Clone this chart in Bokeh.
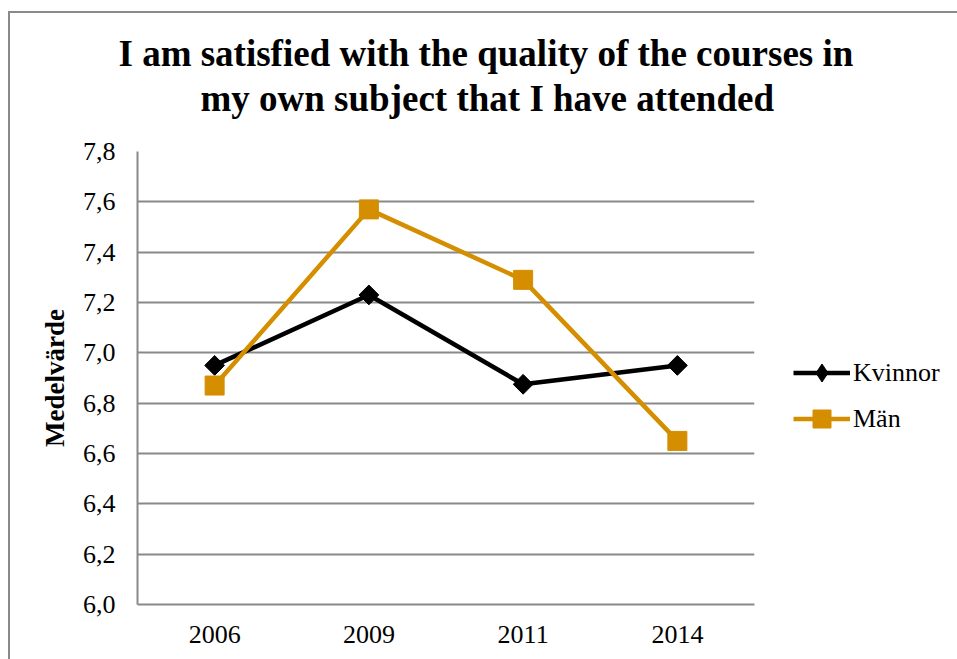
import numpy as np
from bokeh.plotting import figure
from bokeh.models import FactorRange, Range1d, FixedTicker, Legend, LegendItem, Title
from bokeh.embed import file_html
from bokeh.resources import INLINE

years = ["2006", "2009", "2011", "2014"]
kvinnor = [6.95, 7.23, 6.875, 6.95]
man = [6.87, 7.57, 7.29, 6.65]
y_ticks = [6.0, 6.2, 6.4, 6.6, 6.8, 7.0, 7.2, 7.4, 7.6, 7.8]
y_tick_labels = ["6,0", "6,2", "6,4", "6,6", "6,8", "7,0", "7,2", "7,4", "7,6", "7,8"]
title_lines = ["I am satisfied with the quality of the courses in",
               "my own subject that I have attended"]
y_label = "Medelvärde"
series_names = ["Kvinnor", "Män"]

FONT = "Liberation Serif"
GRID = "#898989"
ORANGE = "#D48E00"

p = figure(frame_width=617, frame_height=453, x_range=FactorRange(*years, range_padding=0),
           y_range=Range1d(6.0, 7.8), output_backend="svg", toolbar_location=None,
           min_border_left=127, min_border_right=203, min_border_top=138,
           min_border_bottom=55,
           styles={"border-top": "2px solid #8a8a8a", "border-left": "2px solid #8a8a8a",
                   "margin-top": "11px", "margin-left": "8px"})
p.outline_line_color = None
p.background_fill_color = "white"
p.border_fill_color = "white"

# title (two lines)
t2 = Title(text=title_lines[1], align="left", text_font=FONT, text_font_size="37px",
           text_font_style="bold", text_color="black", offset=63, standoff=65)
t1 = Title(text=title_lines[0], align="left", text_font=FONT, text_font_size="37px",
           text_font_style="bold", text_color="black", offset=-19, standoff=-61)
p.add_layout(t2, "above")
p.add_layout(t1, "above")

# axes
p.yaxis.ticker = FixedTicker(ticks=y_ticks)
p.yaxis.major_label_overrides = {t: l for t, l in zip(y_ticks, y_tick_labels)}
p.yaxis.axis_label = y_label
p.yaxis.axis_label_text_font = FONT
p.yaxis.axis_label_text_font_style = "bold"
p.yaxis.axis_label_text_font_size = "27px"
p.yaxis.axis_label_text_color = "black"
p.yaxis.axis_label_standoff = 10
for ax in (p.xaxis, p.yaxis):
    ax.axis_line_color = GRID
    ax.axis_line_width = 2
    ax.major_tick_line_color = None
    ax.minor_tick_line_color = None
    ax.major_tick_out = 0
    ax.major_tick_in = 0
    ax.major_label_text_font = FONT
    ax.major_label_text_font_size = "26px"
    ax.major_label_text_color = "black"
p.yaxis.major_label_standoff = 22
p.xaxis.major_label_standoff = 21

p.xgrid.grid_line_color = None
p.ygrid.grid_line_color = GRID
p.ygrid.grid_line_width = 2

# series
l1 = p.line(years, kvinnor, line_color="black", line_width=4.5)
# diamond glyph used for the legend entry (hidden under the plotted markers)
d1 = p.scatter(years, kvinnor, marker="diamond", size=18, fill_color="black", line_color="black")
s1 = p.scatter(years, kvinnor, marker="square", angle=np.pi / 4, size=14,
               fill_color="black", line_color="black")
l2 = p.line(years, man, line_color=ORANGE, line_width=4.5)
s2 = p.scatter(years, man, marker="square", size=19, fill_color=ORANGE, line_color=ORANGE)

legend = Legend(items=[LegendItem(label=series_names[0], renderers=[l1, d1]),
                       LegendItem(label=series_names[1], renderers=[l2, s2])],
                location=(39, 163), orientation="vertical",
                glyph_width=57, glyph_height=45, spacing=1, padding=0, margin=0,
                label_standoff=3, label_text_font=FONT, label_text_font_size="26px",
                label_text_color="black",
                border_line_color=None, background_fill_alpha=0)
p.add_layout(legend, "right")

open("out.html", "w").write(file_html(p, INLINE))
